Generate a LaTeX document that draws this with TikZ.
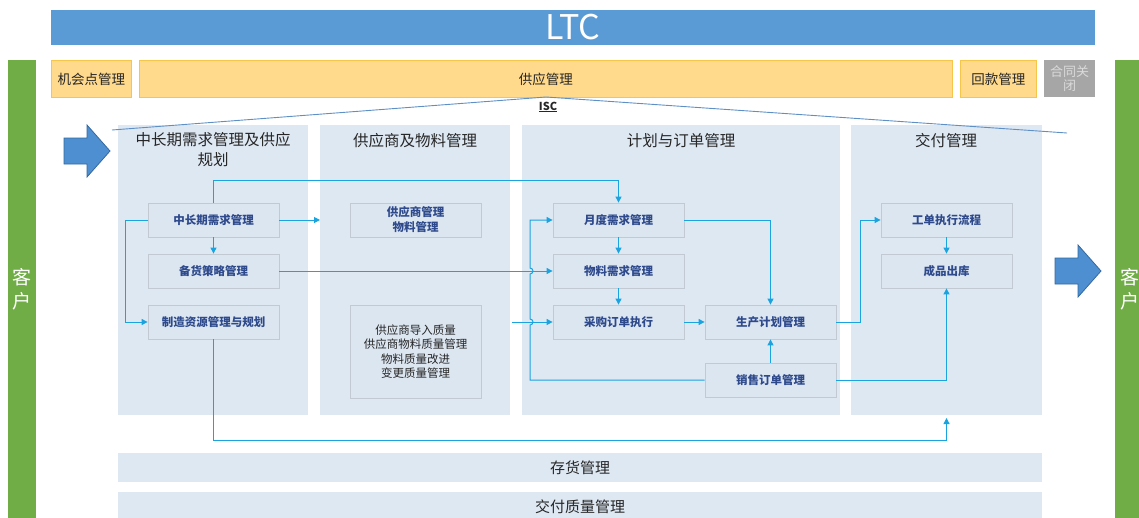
\documentclass[tikz,border=0pt]{standalone}
\usepackage{fontspec}
\setmainfont{Noto Sans CJK SC}
\usetikzlibrary{arrows.meta,calc}
\definecolor{ltcblue}{HTML}{5B9BD5}
\definecolor{cgreen}{HTML}{70AD47}
\definecolor{ofill}{HTML}{FFD98C}
\definecolor{oborder}{HTML}{F7C548}
\definecolor{gfill}{HTML}{A6A6A6}
\definecolor{gtext}{HTML}{DADADA}
\definecolor{colfill}{HTML}{DEE8F3}
\definecolor{boxfill}{HTML}{DCE6F1}
\definecolor{boxborder}{HTML}{C3C9D0}
\definecolor{boxtext}{HTML}{2E4A8C}
\definecolor{lineblue}{HTML}{1BA3DF}
\definecolor{iscline}{HTML}{5E90C6}
\definecolor{arrowfill}{HTML}{4E8FD2}
\definecolor{arrowdraw}{HTML}{34689E}
\definecolor{hdtext}{HTML}{262626}
\begin{document}
\begin{tikzpicture}[x=1pt,y=-1pt,
  ibox/.style={draw=boxborder, line width=0.8pt, fill=boxfill, minimum width=131pt, minimum height=34pt, inner sep=0pt,
    font=\fontsize{11.5}{13}\selectfont\bfseries, text=boxtext, align=center},
  colbox/.style={fill=colfill, anchor=north west, inner sep=0pt, minimum height=290pt, minimum width=190pt},
  coltitle/.style={font=\fontsize{15.5}{20}\selectfont, text=hdtext, align=center},
  obox/.style={draw=oborder, line width=0.8pt, fill=ofill, anchor=north west, inner sep=0pt, minimum height=37pt,
    font=\fontsize{13.5}{16}\selectfont, text=hdtext},
  barbox/.style={fill=colfill, anchor=north west, inner sep=0pt, minimum width=924pt,
    font=\fontsize{15}{18}\selectfont, text=hdtext},
  conn/.style={draw=lineblue, line width=1pt, -{Triangle[length=6pt,width=6pt]}},
  bigarrow/.style={fill=arrowfill, draw=arrowdraw, line width=0.8pt}
]
\useasboundingbox (0,0) rectangle (1139,517);

% LTC bar
\node[fill=ltcblue, anchor=north west, minimum width=1044pt, minimum height=35pt, inner sep=0pt] (ltc) at (51,10) {};
\node[text=white, font=\fontsize{34}{36}\selectfont] (ltct) at (573,27.5) {LTC};

% green customer bars
\node[fill=cgreen, anchor=north west, minimum width=28pt, minimum height=470pt, inner sep=0pt] (gl) at (8,60) {};
\node[fill=cgreen, anchor=north west, minimum width=30pt, minimum height=470pt, inner sep=0pt] (gr) at (1115,60) {};
\node[text=white, font=\fontsize{19}{24}\selectfont, align=center] (kl) at (22,289) {客\\户};
\node[text=white, font=\fontsize{19}{24}\selectfont, align=center] (kr) at (1130,289) {客\\户};

% orange row
\node[obox, minimum width=80pt] (jhd) at (51,60) {};
\node[font=\fontsize{13.5}{16}\selectfont, text=hdtext] at (jhd.center) {机会点管理};
\node[obox, minimum width=813pt] (gygl) at (139,60) {};
\node[font=\fontsize{13.5}{16}\selectfont, text=hdtext] at (gygl.center) {供应管理};
\node[obox, minimum width=76pt] (hk) at (960,60) {};
\node[font=\fontsize{13.5}{16}\selectfont, text=hdtext] at (hk.center) {回款管理};
\node[fill=gfill, anchor=north west, minimum width=51pt, minimum height=37pt, inner sep=0pt] (htgb) at (1044,60) {};
\node[text=gtext, font=\fontsize{13}{14}\selectfont, align=center] at (htgb.center) {合同关\\闭};

% big arrows
\draw[bigarrow] (64,138) -- (87,138) -- (87,125) -- (110,151) -- (87,177) -- (87,164) -- (64,164) -- cycle;
\draw[bigarrow] (1055,258) -- (1078,258) -- (1078,245) -- (1101,271) -- (1078,297) -- (1078,284) -- (1055,284) -- cycle;

% columns
\node[colbox] (c1) at (118,125) {};
\node[colbox] (c2) at (320,125) {};
\node[colbox, minimum width=318pt] (c3) at (522,125) {};
\node[colbox, minimum width=191pt] (c4) at (851,125) {};
\node[coltitle] (t1) at (213,150) {中长期需求管理及供应\\规划};
\node[coltitle] (t2) at (415,141) {供应商及物料管理};
\node[coltitle] (t3) at (681,141) {计划与订单管理};
\node[coltitle] (t4) at (946,141) {交付管理};

% ISC
\coordinate (iscl) at (112,130);
\coordinate (isca) at (546,97);
\coordinate (iscr) at (1067,133);
\draw[iscline, line width=0.9pt] (iscl) -- (isca) -- (iscr);
\node[font=\fontsize{11}{13}\selectfont\bfseries, text=hdtext] (isc) at (548,107) {\underline{ISC}};

% bottom bars
\node[barbox, minimum height=29pt] (chgl) at (118,453) {};
\node[font=\fontsize{15}{18}\selectfont, text=hdtext] at (chgl.center) {存货管理};
\node[barbox, minimum height=40pt] (jfzl) at (118,492) {};
\node[font=\fontsize{15}{18}\selectfont, text=hdtext] at (580,507) {交付质量管理};

% inner boxes
\node[ibox] (zcq) at (213.5,220) {中长期需求管理};
\node[ibox] (bhcl) at (213.5,271) {备货策略管理};
\node[ibox] (zzzy) at (213.5,322) {制造资源管理与规划};
\node[ibox, font=\fontsize{11.5}{15}\selectfont\bfseries] (gys) at (415.5,220) {供应商管理\\物料管理};
\node[ibox, minimum height=93pt, font=\fontsize{11.5}{14.5}\selectfont, text=hdtext] (zl) at (415.5,351.5) {供应商导入质量\\供应商物料质量管理\\物料质量改进\\变更质量管理};
\node[ibox] (ydxq) at (618.5,220) {月度需求管理};
\node[ibox] (wlxq) at (618.5,271) {物料需求管理};
\node[ibox] (cgdd) at (618.5,322) {采购订单执行};
\node[ibox] (sjh) at (770.5,322) {生产计划管理};
\node[ibox] (xsdd) at (770.5,380) {销售订单管理};
\node[ibox] (gd) at (946.5,220) {工单执行流程};
\node[ibox] (cpck) at (946.5,271) {成品出库};

% connectors
\draw[conn] (zcq.north) -- ++(0,-22) -| (ydxq.north);
\coordinate (e2) at (320,220);
\draw[conn] (zcq.east) -- (e2);
\draw[conn] (zcq.south) -- (bhcl.north);
\draw[conn] (zcq.west) -- ++(-22,0) |- (zzzy.west);
\draw[conn] (bhcl.east) -- (wlxq.west);
\coordinate (s6) at (512,322);
\draw[conn] (s6) -- (cgdd.west);
\draw[conn] (xsdd.west) -- (530,380) -- (530,325) arc[start angle=-90, end angle=90, radius=3pt]
  -- (530,274) arc[start angle=-90, end angle=90, radius=3pt] -- (530,220) -- (ydxq.west);
\draw[conn] (ydxq.south) -- (wlxq.north);
\draw[conn] (wlxq.south) -- (cgdd.north);
\draw[conn] (ydxq.east) -| (sjh.north);
\draw[conn] (cgdd.east) -- (sjh.west);
\draw[conn] (xsdd.north) -- (sjh.south);
\draw[conn] (sjh.east) -- ++(24,0) |- (gd.west);
\draw[conn] (gd.south) -- (cpck.north);
\draw[conn] (xsdd.east) -| (cpck.south);
\coordinate (e15) at (946.5,418);
\draw[conn] (zzzy.south) -- ++(0,101) -| (e15);
\end{tikzpicture}
\end{document}
